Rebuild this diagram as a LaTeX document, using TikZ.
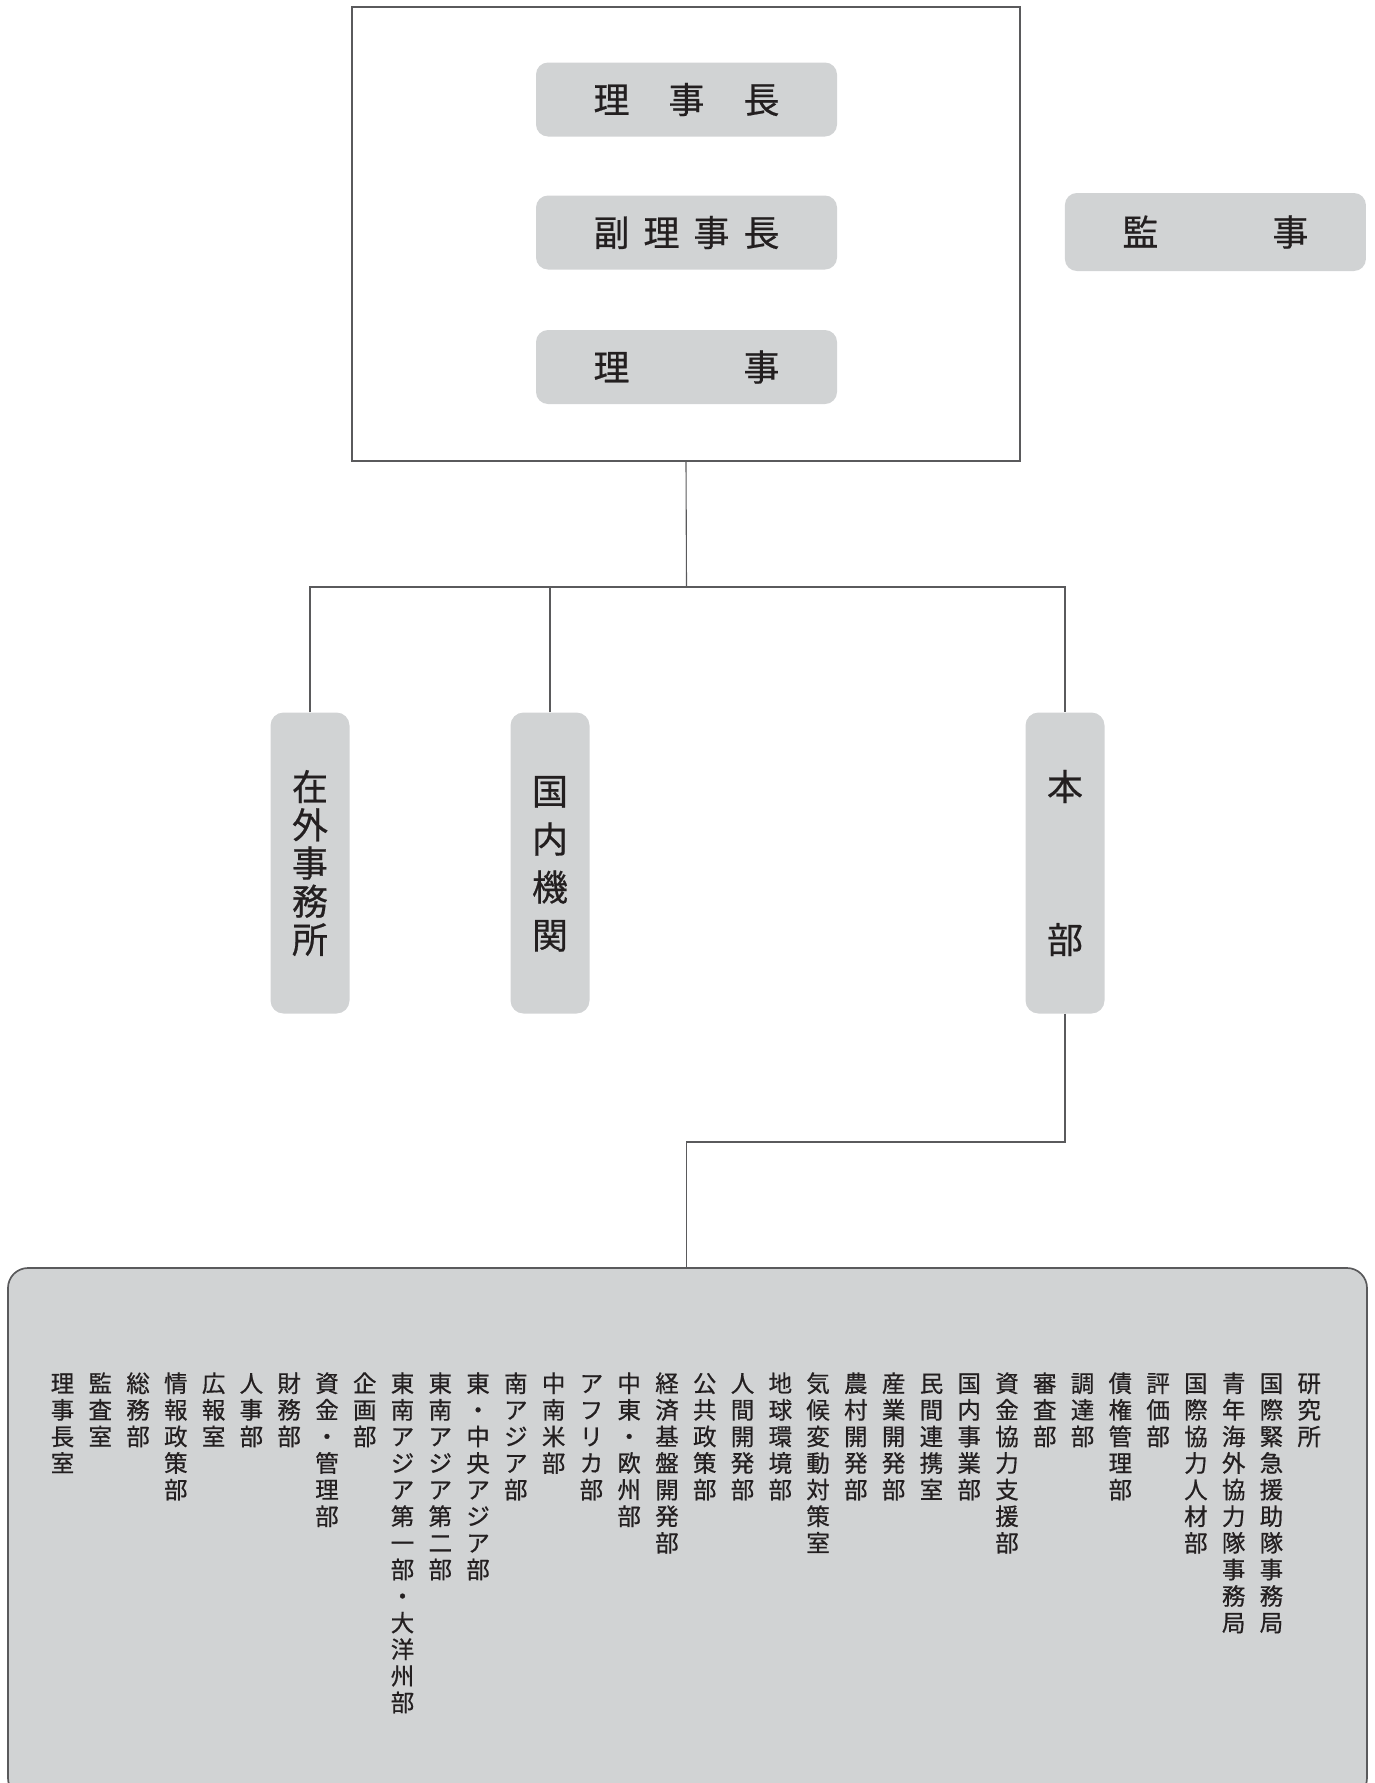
\documentclass[tikz,border=0pt]{standalone}
\usepackage{fontspec}
\newfontfamily\jp[FakeBold=0.6]{Noto Sans CJK JP}
\definecolor{boxgray}{RGB}{209,211,212}
\definecolor{textc}{RGB}{35,31,32}
\definecolor{linec}{RGB}{90,90,92}
\newlength\vpitch
\newcommand\vstack[2]{\vbox{\offinterlineskip\setlength\vpitch{#1}\expandafter\vstackloop#2\relax}}
\newcommand\cvstack[2]{\vbox to 0pt{\vss\vstack{#1}{#2}\vss}}
\def\vstackloop#1{\ifx\relax#1\else\hbox to 1.2em{\hss\vrule width 0pt height \dimexpr\vpitch/2+0.38em\relax depth \dimexpr\vpitch/2-0.38em\relax #1\hss}\expandafter\vstackloop\fi}
\tikzset{
  gbox/.style={fill=boxgray, draw=none, rounded corners=12pt, text=textc, inner sep=0pt,
    font=\jp\fontsize{36}{42}\selectfont},
  hbox/.style={gbox, minimum width=301pt, minimum height=74pt},
  vbox/.style={gbox, rounded corners=13pt, minimum width=79pt, minimum height=301pt},
  conn/.style={draw=linec, line width=1.1pt},
  listtext/.style={inner sep=0pt, text=textc, font=\jp\fontsize{23.5}{28}\selectfont, anchor=north}
}
\begin{document}
\begin{tikzpicture}[x=1pt,y=-1pt]
\useasboundingbox (0,0) rectangle (1375,1783);
% board frame
\node[draw=linec, line width=1.2pt, minimum width=668pt, minimum height=454pt, inner sep=0pt] (board) at (686,234) {};
\node[hbox] (chair) at (686.5,99.5) {理\hspace{39pt}事\hspace{39pt}長};
\node[hbox] (vice) at (686.5,232.5) {副\hspace{14pt}理\hspace{14pt}事\hspace{14pt}長};
\node[hbox] (dir) at (686.5,367) {理\hspace{114pt}事};
\node[gbox, minimum width=301pt, minimum height=78pt] (audit) at (1215.4,232) {監\hspace{114pt}事};
% second level
\node[vbox] (zaigai) at (310,863) {\cvstack{38.2pt}{在外事務所}};
\node[vbox] (kokunai) at (550,863) {\cvstack{48pt}{国内機関}};
\node[vbox] (honbu) at (1065,863) {\cvstack{153pt}{本部}};
\coordinate (j1) at (686.5,587);
\draw[conn] (board.south) -- (j1);
\draw[conn] (zaigai.north) -- (zaigai.north |- j1) -- (honbu.north |- j1) -- (honbu.north);
\draw[conn] (kokunai.north) -- (kokunai.north |- j1);
% list box
\node[fill=boxgray, draw=linec, line width=1.7pt, rounded corners=20pt, minimum width=1359pt, minimum height=530pt, inner sep=0pt] (list) at (687.5,1533) {};
\coordinate (j2) at (686.5,1142);
\draw[conn] (honbu.south) -- (honbu.south |- j2) -- (j2) -- (j2 |- list.north);
\foreach \lbl [count=\i] in {理事長室,監査室,総務部,情報政策部,広報室,人事部,財務部,資金・管理部,企画部,東南アジア第一部・大洋州部,東南アジア第二部,東・中央アジア部,南アジア部,中南米部,アフリカ部,中東・欧州部,経済基盤開発部,公共政策部,人間開発部,地球環境部,気候変動対策室,農村開発部,産業開発部,民間連携室,国内事業部,資金協力支援部,審査部,調達部,債権管理部,評価部,国際協力人材部,青年海外協力隊事務局,国際緊急援助隊事務局,研究所}
  \node[listtext] (c\i) at ({62.5+(\i-1)*37.78},1369.7) {\vstack{26.6pt}{\lbl}};
\end{tikzpicture}
\end{document}
